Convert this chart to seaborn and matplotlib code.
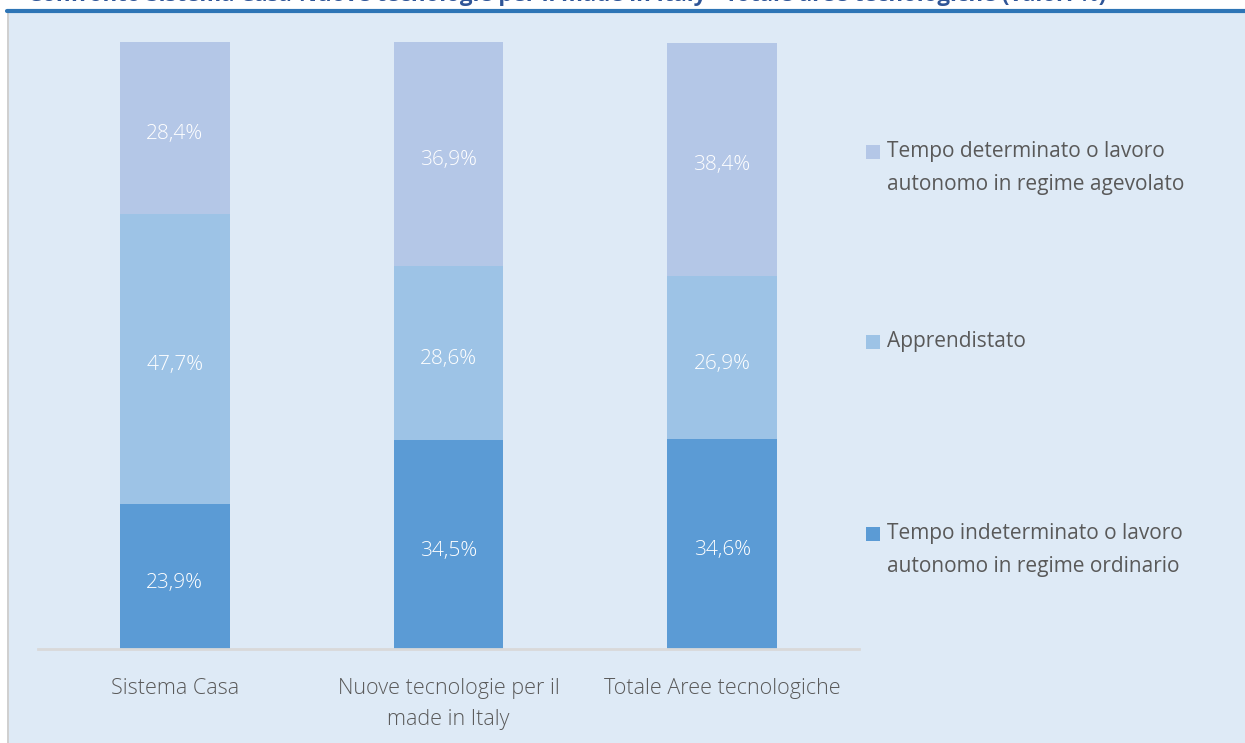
import numpy as np
import pandas as pd
import seaborn as sns
import matplotlib.pyplot as plt
from matplotlib.patches import Rectangle
from matplotlib.lines import Line2D

# dati
categorie = ["Sistema Casa", "Nuove tecnologie per il\nmade in Italy", "Totale Aree tecnologiche"]
indeterminato = [23.9, 34.5, 34.6]
apprendistato = [47.7, 28.6, 26.9]
determinato = [28.4, 36.9, 38.4]

serie = ["Tempo indeterminato o lavoro\nautonomo in regime ordinario",
         "Apprendistato",
         "Tempo determinato o lavoro\nautonomo in regime agevolato"]
colori = ["#5B9BD5", "#9DC3E6", "#B4C7E7"]

df = pd.DataFrame({"cat": categorie, "s0": indeterminato, "s1": apprendistato, "s2": determinato})
df["c0"] = df["s0"]
df["c1"] = df["s0"] + df["s1"]
df["c2"] = df["c1"] + df["s2"]

sns.set_style("white")
plt.rcParams["font.family"] = ["Open Sans", "DejaVu Sans"]

fig = plt.figure(figsize=(12.45, 7.43), dpi=100)
W, H = 1245, 743

# pannello di sfondo e linea del titolo
fig.patches.append(Rectangle((7 / W, 0), 1 - 7 / W, 1 - 13 / H, transform=fig.transFigure,
                             facecolor="#DEEAF6", edgecolor="none", zorder=-2))
fig.patches.append(Rectangle((7 / W, 0), 2 / W, 1 - 13 / H, transform=fig.transFigure,
                             facecolor="#D0D0D0", edgecolor="none", zorder=-1))
fig.lines.append(Line2D([7 / W, 1], [1 - 10.5 / H, 1 - 10.5 / H], transform=fig.transFigure,
                        color="#2E75B6", lw=3))
fig.text(28 / W, 1 - 1.5 / H,
         "Confronto Sistema Casa-Nuove tecnologie per il made in Italy - Totale aree tecnologiche (valori %)",
         color="#2F5597", fontsize=16, fontweight="bold", va="baseline", ha="left")

ax = fig.add_axes([38 / W, 1 - 649 / H, 821 / W, 607 / H])
ax.set_facecolor("none")

# barre cumulative, dalla più alta alla più bassa
for col, colore in zip(["c2", "c1", "c0"], colori[::-1]):
    sns.barplot(data=df, x="cat", y=col, color=colore, width=0.4, saturation=1,
                ax=ax, errorbar=None, linewidth=0, edgecolor="none")

# etichette dei valori
for i in range(len(categorie)):
    base = 0
    for s in ["s0", "s1", "s2"]:
        v = df.loc[i, s]
        ax.annotate(f"{v:.1f}%".replace(".", ","), (i, base + v / 2), xytext=(0, -4.5),
                    textcoords="offset points", ha="center", va="center",
                    color="white", fontsize=15, fontweight="light")
        base += v

ax.set_ylim(0, 100)
ax.set_xlim(-0.5, 2.5)
ax.set_xlabel("")
ax.set_ylabel("")
ax.set_yticks([])
for s in ["top", "right", "left"]:
    ax.spines[s].set_visible(False)
ax.spines["bottom"].set_color("#D9D9D9")
ax.spines["bottom"].set_linewidth(2)
ax.tick_params(axis="x", length=0, pad=21, labelsize=15.5, labelcolor="#595959")
for t in ax.get_xticklabels():
    t.set_linespacing(1.62)
    t.set_fontweight("light")

# legenda (disegnata a mano per riprodurre le spaziature)
leg_y = [550, 342, 168]
for nome, colore, yc in zip(serie, colori, leg_y):
    fig.patches.append(Rectangle((866 / W, 1 - (yc + 7 - (16 if "\n" in nome else 0)) / H),
                                 14 / W, 14 / H, transform=fig.transFigure,
                                 facecolor=colore, edgecolor="none"))
    fig.text(887 / W, 1 - yc / H, nome, ha="left", va="center", fontsize=15,
             color="#595959", linespacing=1.72)

fig.savefig("out.png", dpi=100)
